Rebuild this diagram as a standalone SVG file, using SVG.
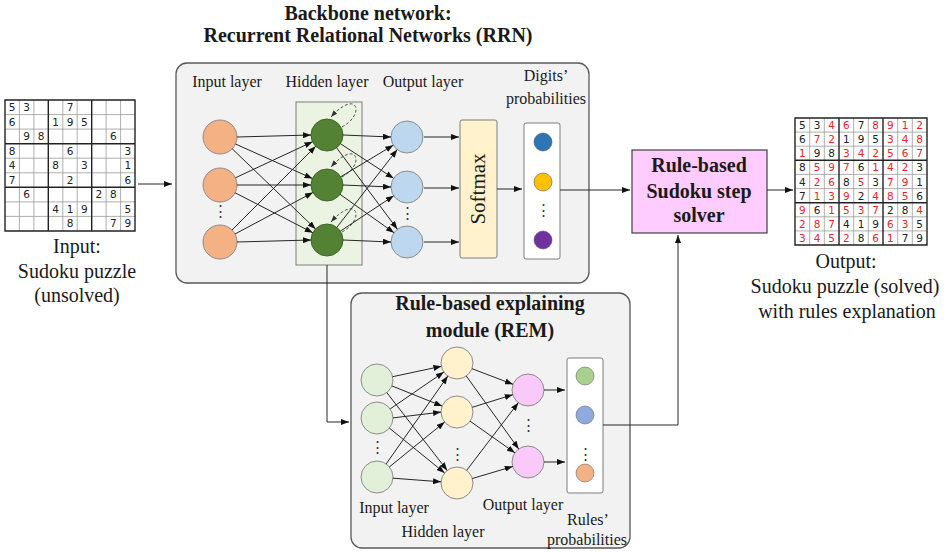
<svg xmlns="http://www.w3.org/2000/svg" width="948" height="552" viewBox="0 0 948 552">
<style>
.t{font-family:"Liberation Serif","Times New Roman",serif;fill:#1a1a1a}
.lbl{font-size:16px}
.big{font-size:20px}
.b{font-weight:bold;font-size:20px}
.e{stroke:#262626;stroke-width:1;fill:none}
.d{font-family:"DejaVu Sans",Verdana,sans-serif;text-anchor:middle;fill:#222}
.r{fill:#e8262a}
.panel{fill:#f2f2f2;stroke:#595959;stroke-width:1.3}
.n{stroke:#8c8c8c;stroke-width:1}
.loop{stroke:#555;stroke-width:1;fill:none;stroke-dasharray:3 2}
.dots{font-family:"Liberation Serif",serif;font-size:15px;text-anchor:middle;fill:#333}
</style>
<defs>
<marker id="ah" viewBox="0 0 8 6" refX="8" refY="3" markerWidth="8" markerHeight="6" markerUnits="userSpaceOnUse" orient="auto">
<path d="M0,0 L8,3 L0,6 z" fill="#111"/>
</marker>
<marker id="ahs" viewBox="0 0 8 6" refX="8" refY="3" markerWidth="7" markerHeight="5" markerUnits="userSpaceOnUse" orient="auto">
<path d="M0,0 L8,3 L0,6 z" fill="#333"/>
</marker>
</defs>
<rect width="948" height="552" fill="#ffffff"/>

<!-- Input sudoku -->
<g id="input-sudoku">
<rect x="5" y="100" width="130" height="131" fill="#fff"/>
<path d="M19.4 100V231M33.9 100V231M62.8 100V231M77.2 100V231M106.1 100V231M120.6 100V231M5 114.6H135M5 129.1H135M5 158.2H135M5 172.8H135M5 201.9H135M5 216.4H135" stroke="#9a9a9a" stroke-width="0.8" fill="none"/>
<path d="M5 100H135V231H5ZM48.3 100V231M91.7 100V231M5 143.7H135M5 187.3H135" stroke="#222" stroke-width="1.4" fill="none"/>
<g class="d" font-size="10.5">
<text x="12.2 26.7 70" y="111">537</text>
<text x="12.2 55.6 70 84.4" y="125.5">6195</text>
<text x="26.7 41.1 113.3" y="140">986</text>
<text x="12.2 70 127.8" y="154.5">863</text>
<text x="12.2 55.6 84.4 127.8" y="169">4831</text>
<text x="12.2 70 127.8" y="183.5">726</text>
<text x="26.7 98.9 113.3" y="198">628</text>
<text x="55.6 70 84.4 127.8" y="212.5">4195</text>
<text x="70 113.3 127.8" y="227">879</text>
</g>
<text class="t big" text-anchor="middle" x="77" y="253">Input:</text>
<text class="t big" text-anchor="middle" x="77" y="278">Sudoku puzzle</text>
<text class="t big" text-anchor="middle" x="77" y="302">(unsolved)</text>
</g>

<!-- RRN panel -->
<g id="rrn">
<text class="t b" text-anchor="middle" x="368" y="20">Backbone network:</text>
<text class="t b" text-anchor="middle" x="368" y="42">Recurrent Relational Networks (RRN)</text>
<rect class="panel" x="176" y="63" width="413" height="220" rx="11"/>
<text class="t lbl" text-anchor="middle" x="227" y="87">Input layer</text>
<text class="t lbl" text-anchor="middle" x="327" y="87">Hidden layer</text>
<text class="t lbl" text-anchor="middle" x="423" y="87">Output layer</text>
<text class="t lbl" text-anchor="middle" x="546" y="81">Digits’</text>
<text class="t lbl" text-anchor="middle" x="546" y="104">probabilities</text>
<rect x="296" y="102" width="66" height="163" fill="#ebf3e3" stroke="#7f7f7f" stroke-width="1"/>
</g>

<g id="rrn-input-nodes">
<circle class="n" cx="220" cy="137" r="17" fill="#f4b183"/>
<circle class="n" cx="220" cy="185" r="17" fill="#f4b183"/>
<circle class="n" cx="220" cy="242" r="17" fill="#f4b183"/>
<text class="dots" x="220" y="216">⋮</text>
</g>
<g id="rrn-hidden-nodes">
<circle cx="327" cy="135" r="16" fill="#548235" stroke="#3f6427"/>
<circle cx="327" cy="185" r="16" fill="#548235" stroke="#3f6427"/>
<circle cx="327" cy="240" r="16" fill="#548235" stroke="#3f6427"/>
</g>
<g id="rrn-output-nodes">
<circle class="n" cx="407" cy="137" r="16" fill="#bdd7ee"/>
<circle class="n" cx="407" cy="187" r="16" fill="#bdd7ee"/>
<circle class="n" cx="407" cy="242" r="16" fill="#bdd7ee"/>
<text class="dots" x="407" y="218">⋮</text>
</g>
<g id="softmax">
<rect x="460" y="120" width="37" height="138" rx="2" fill="#fff2cc" stroke="#7f7f7f"/>
<text class="t" font-size="21" text-anchor="middle" transform="translate(485 189) rotate(-90)">Softmax</text>
</g>
<g id="digits-probabilities">
<rect x="524" y="123" width="36" height="136" rx="2" fill="#fff" stroke="#7f7f7f"/>
<circle cx="543" cy="142" r="9" fill="#2e75b6" stroke="#555" stroke-width="0.6"/>
<circle cx="543" cy="182" r="9" fill="#ffc000" stroke="#555" stroke-width="0.6"/>
<text class="dots" x="543" y="215">⋮</text>
<circle cx="543" cy="240" r="9" fill="#7030a0" stroke="#555" stroke-width="0.6"/>
</g>

<!-- Solver -->
<g id="solver">
<rect x="632" y="150" width="135" height="83" fill="#ffccff" stroke="#404040" stroke-width="1.2"/>
<text class="t b" text-anchor="middle" x="699" y="172">Rule-based</text>
<text class="t b" text-anchor="middle" x="699" y="198">Sudoku step</text>
<text class="t b" text-anchor="middle" x="699" y="222">solver</text>
</g>

<!-- Output sudoku -->
<g id="output-sudoku">
<rect x="795" y="118" width="132" height="127" fill="#fff"/>
<path d="M809.7 118V245M824.3 118V245M853.7 118V245M868.3 118V245M897.7 118V245M912.3 118V245M795 132.1H927M795 146.2H927M795 174.4H927M795 188.6H927M795 216.8H927M795 230.9H927" stroke="#9a9a9a" stroke-width="0.8" fill="none"/>
<path d="M795 118H927V245H795ZM839 118V245M883 118V245M795 160.3H927M795 202.7H927" stroke="#222" stroke-width="1.4" fill="none"/>
<g class="d" font-size="10.5">
<text x="802.3 817 831.7 846.3 861 875.7 890.3 905 919.7" y="129">53<tspan class="r">46</tspan>7<tspan class="r">8912</tspan></text>
<text x="802.3 817 831.7 846.3 861 875.7 890.3 905 919.7" y="143">6<tspan class="r">72</tspan>195<tspan class="r">348</tspan></text>
<text x="802.3 817 831.7 846.3 861 875.7 890.3 905 919.7" y="157"><tspan class="r">1</tspan>98<tspan class="r">342567</tspan></text>
<text x="802.3 817 831.7 846.3 861 875.7 890.3 905 919.7" y="171">8<tspan class="r">597</tspan>6<tspan class="r">142</tspan>3</text>
<text x="802.3 817 831.7 846.3 861 875.7 890.3 905 919.7" y="185.5">4<tspan class="r">26</tspan>8<tspan class="r">5</tspan>3<tspan class="r">79</tspan>1</text>
<text x="802.3 817 831.7 846.3 861 875.7 890.3 905 919.7" y="199.5">7<tspan class="r">139</tspan>2<tspan class="r">485</tspan>6</text>
<text x="802.3 817 831.7 846.3 861 875.7 890.3 905 919.7" y="213.5"><tspan class="r">9</tspan>6<tspan class="r">1537</tspan>28<tspan class="r">4</tspan></text>
<text x="802.3 817 831.7 846.3 861 875.7 890.3 905 919.7" y="228"><tspan class="r">287</tspan>419<tspan class="r">63</tspan>5</text>
<text x="802.3 817 831.7 846.3 861 875.7 890.3 905 919.7" y="242"><tspan class="r">3452</tspan>8<tspan class="r">61</tspan>79</text>
</g>
<text class="t big" text-anchor="middle" x="846" y="268">Output:</text>
<text class="t big" text-anchor="middle" x="845" y="293">Sudoku puzzle (solved)</text>
<text class="t big" text-anchor="middle" x="847" y="318">with rules explanation</text>
</g>

<!-- REM panel -->
<g id="rem">
<rect class="panel" x="351" y="293" width="279" height="255" rx="11"/>
<text class="t b" text-anchor="middle" x="490" y="310">Rule-based explaining</text>
<text class="t b" text-anchor="middle" x="490" y="337">module (REM)</text>
<text class="t lbl" text-anchor="middle" x="394" y="513">Input layer</text>
<text class="t lbl" text-anchor="middle" x="443" y="537">Hidden layer</text>
<text class="t lbl" text-anchor="middle" x="523" y="510">Output layer</text>
<text class="t lbl" text-anchor="middle" x="588" y="525">Rules’</text>
<text class="t lbl" text-anchor="middle" x="587" y="545">probabilities</text>
</g>
<g id="rem-input-nodes">
<circle class="n" cx="377" cy="380" r="16" fill="#e2f0d9"/>
<circle class="n" cx="377" cy="418" r="16" fill="#e2f0d9"/>
<circle class="n" cx="377" cy="477" r="16" fill="#e2f0d9"/>
<text class="dots" x="377" y="452">⋮</text>
</g>
<g id="rem-hidden-nodes">
<circle class="n" cx="457" cy="363" r="16" fill="#fff2cc"/>
<circle class="n" cx="457" cy="412" r="16" fill="#fff2cc"/>
<circle class="n" cx="457" cy="483" r="16" fill="#fff2cc"/>
<text class="dots" x="457" y="459">⋮</text>
</g>
<g id="rem-output-nodes">
<circle class="n" cx="528" cy="390" r="16" fill="#f9c9f9"/>
<circle class="n" cx="528" cy="462" r="16" fill="#f9c9f9"/>
<text class="dots" x="528" y="430">⋮</text>
</g>
<g id="rules-probabilities">
<rect x="567" y="358" width="36" height="135" rx="2" fill="#fff" stroke="#7f7f7f"/>
<circle cx="585" cy="376" r="9" fill="#a9d18e" stroke="#666" stroke-width="0.6"/>
<circle cx="585" cy="415" r="9" fill="#8faadc" stroke="#666" stroke-width="0.6"/>
<text class="dots" x="585" y="459">⋮</text>
<circle cx="585" cy="473" r="9" fill="#f4b183" stroke="#666" stroke-width="0.6"/>
</g>

<!-- Connectors -->
<g id="connectors" class="e">
<path d="M138 184H172" marker-end="url(#ah)"/>
<!-- RRN input->hidden -->
<path d="M237 137L311 135" marker-end="url(#ah)"/>
<path d="M235.5 144L312.4 178.5" marker-end="url(#ah)"/>
<path d="M232.2 148.8L315.5 228.9" marker-end="url(#ah)"/>
<path d="M235.4 177.8L312.5 141.8" marker-end="url(#ah)"/>
<path d="M237 185L311 185" marker-end="url(#ah)"/>
<path d="M235.1 192.8L312.8 232.7" marker-end="url(#ah)"/>
<path d="M232 230L315.7 146.3" marker-end="url(#ah)"/>
<path d="M235 234L312.9 192.5" marker-end="url(#ah)"/>
<path d="M237 242L311 240" marker-end="url(#ah)"/>
<!-- self loops -->
<path class="loop" d="M342 127C366 114 357 88 331 117" marker-end="url(#ahs)"/>
<path class="loop" d="M342 177C366 164 357 138 331 167" marker-end="url(#ahs)"/>
<path class="loop" d="M342 232C366 219 357 193 331 222" marker-end="url(#ahs)"/>
<!-- RRN hidden->output -->
<path d="M343 135L391 137" marker-end="url(#ah)"/>
<path d="M340.4 143.7L393.6 178.3" marker-end="url(#ah)"/>
<path d="M336.6 147.8L397.4 229.2" marker-end="url(#ah)"/>
<path d="M340.7 176.8L393.3 145.2" marker-end="url(#ah)"/>
<path d="M343 185L391 187" marker-end="url(#ah)"/>
<path d="M340 194.3L394 232.7" marker-end="url(#ah)"/>
<path d="M336.8 227.4L397.2 149.6" marker-end="url(#ah)"/>
<path d="M340.3 231.2L393.7 195.8" marker-end="url(#ah)"/>
<path d="M343 240L391 242" marker-end="url(#ah)"/>
<!-- output->softmax -->
<path d="M424 137H459" marker-end="url(#ah)"/>
<path d="M424 188H459" marker-end="url(#ah)"/>
<path d="M424 242H459" marker-end="url(#ah)"/>
<path d="M497 189H522" marker-end="url(#ah)"/>
<path d="M560 190H630" marker-end="url(#ah)"/>
<path d="M767 190H793" marker-end="url(#ah)"/>
<!-- hidden -> REM -->
<path d="M327 265V422H349" marker-end="url(#ah)"/>
<!-- REM input->hidden -->
<path d="M392.6 376.7L441.4 366.3" marker-end="url(#ah)"/>
<path d="M391.8 385.9L442.2 406.1" marker-end="url(#ah)"/>
<path d="M386.8 392.6L447.2 470.4" marker-end="url(#ah)"/>
<path d="M390.2 408.9L443.8 372.1" marker-end="url(#ah)"/>
<path d="M393 417.9L441 412.1" marker-end="url(#ah)"/>
<path d="M389.4 428.1L444.6 472.9" marker-end="url(#ah)"/>
<path d="M386.2 463.9L447.8 376.1" marker-end="url(#ah)"/>
<path d="M389.4 466.9L444.6 422.1" marker-end="url(#ah)"/>
<path d="M393 478.2L441 481.8" marker-end="url(#ah)"/>
<!-- REM hidden->output -->
<path d="M472 368.7L513 384.3" marker-end="url(#ah)"/>
<path d="M466.3 376L518.7 449" marker-end="url(#ah)"/>
<path d="M472.3 407.3L512.7 394.7" marker-end="url(#ah)"/>
<path d="M470.1 421.2L514.9 452.8" marker-end="url(#ah)"/>
<path d="M466.7 470.3L518.3 402.7" marker-end="url(#ah)"/>
<path d="M472.3 478.5L512.7 466.5" marker-end="url(#ah)"/>
<path d="M544 390H565" marker-end="url(#ah)"/>
<path d="M544 462H565" marker-end="url(#ah)"/>
<!-- rules -> solver -->
<path d="M603 425H678V235" marker-end="url(#ah)"/>
</g>
</svg>
